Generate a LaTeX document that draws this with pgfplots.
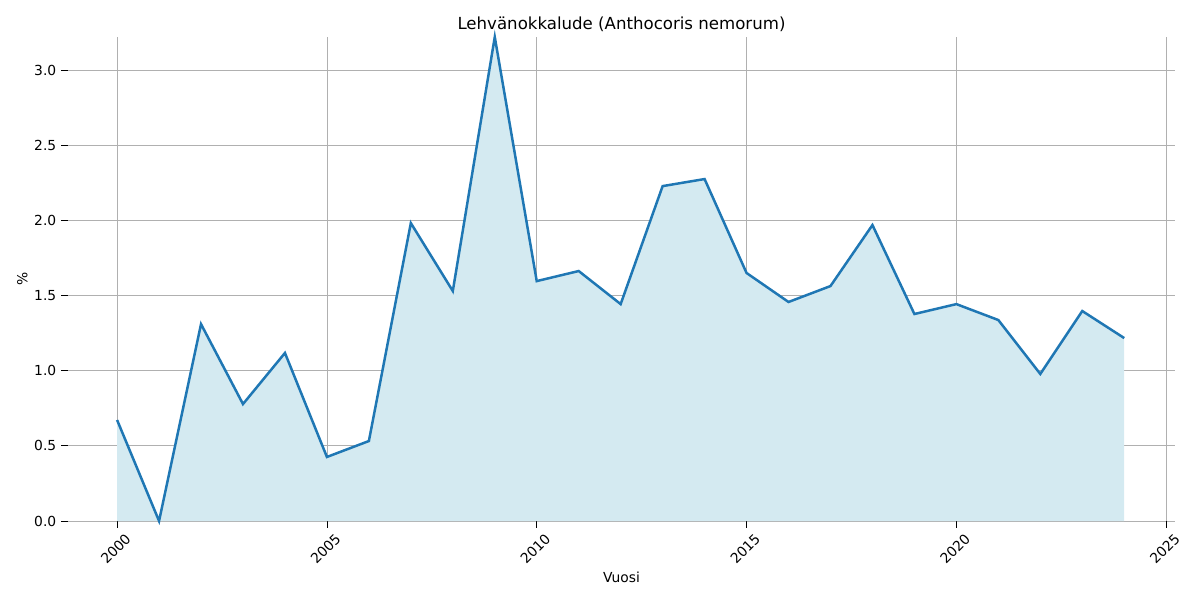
\documentclass[border=0pt]{standalone}
\usepackage{pgfplots}
\pgfplotsset{compat=1.18}
\usepackage{fontspec}
\setmainfont{DejaVu Sans}
\definecolor{mplblue}{HTML}{1F77B4}
\definecolor{fillblue}{HTML}{D4EAF1}
\definecolor{gridgray}{HTML}{B0B0B0}
\begin{document}
\begin{tikzpicture}
\path[use as bounding box] (-0.68in,-0.79in) rectangle (11.32in,5.21in);
\begin{axis}[
  at={(0,0)}, anchor=origin,
  scale only axis,
  width=11.07in, height=4.84in,
  xmin=1998.83, xmax=2025.21,
  ymin=0, ymax=3.22,
  axis line style={draw=none},
  xtick={2000,2005,...,2025},
  ytick={0,0.5,...,3.0},
  xticklabel style={yshift=-15pt, xshift=-1pt, rotate=45, anchor=center, font=\fontsize{10}{12}\selectfont},
  yticklabel style={font=\fontsize{10}{12}\selectfont, /pgf/number format/.cd, fixed, fixed zerofill, precision=1, use period},
  /pgf/number format/assume math mode=true,
  xticklabel={\pgfmathprintnumber[fixed, precision=0, 1000 sep={}]{\tick}},
  tick style={black, line width=0.6pt},
  major tick length=5pt,
  tick align=outside,
  xtick pos=bottom, ytick pos=left,
  grid=major,
  grid style={gridgray, line width=0.6pt},
  title={\fontsize{12}{14}\selectfont Lehvänokkalude (Anthocoris nemorum)},
  title style={yshift=-5.5pt},
  xlabel={\fontsize{10}{12}\selectfont Vuosi},
  xlabel style={yshift=3pt},
  ylabel={\fontsize{10}{12}\selectfont \%},
  ylabel style={yshift=-2pt},
  clip=false,
]
\addplot[fill=fillblue, draw=none] coordinates {
(2000,0.672) (2001,0) (2002,1.31) (2003,0.778) (2004,1.118) (2005,0.426)
(2006,0.532) (2007,1.982) (2008,1.53) (2009,3.22) (2010,1.596) (2011,1.663)
(2012,1.443) (2013,2.228) (2014,2.275) (2015,1.65) (2016,1.457) (2017,1.563)
(2018,1.969) (2019,1.377) (2020,1.443) (2021,1.337) (2022,0.978) (2023,1.397)
(2024,1.217) (2024,0) (2000,0)} \closedcycle;
\addplot[mplblue, line width=1.8pt] coordinates {
(2000,0.672) (2001,0) (2002,1.31) (2003,0.778) (2004,1.118) (2005,0.426)
(2006,0.532) (2007,1.982) (2008,1.53) (2009,3.22) (2010,1.596) (2011,1.663)
(2012,1.443) (2013,2.228) (2014,2.275) (2015,1.65) (2016,1.457) (2017,1.563)
(2018,1.969) (2019,1.377) (2020,1.443) (2021,1.337) (2022,0.978) (2023,1.397)
(2024,1.217)};
\end{axis}
\end{tikzpicture}
\end{document}
